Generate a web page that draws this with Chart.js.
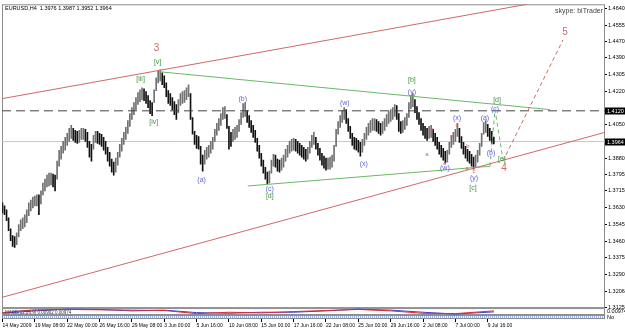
<!DOCTYPE html>
<html>
<head>
<meta charset="utf-8">
<script src="https://cdn.jsdelivr.net/npm/chart.js@4.4.1/dist/chart.umd.min.js"></script>
<style>
	html, body { margin: 0; padding: 0; background: #ffffff; }
	#wrap { width: 625px; height: 330px; }
</style>
</head>
<body>
<div id="wrap"><canvas id="chart" width="625" height="330"></canvas></div>
<script>
// EURUSD H4, 14 May 2009 - 10 Jul 2009 (one entry per bar)
const barHigh = [
	1.3653, 1.3638, 1.3618, 1.3578, 1.3522, 1.3487, 1.3482, 1.3502, 1.3543, 1.3568,
	1.3578, 1.3593, 1.3618, 1.3653, 1.3668, 1.3683, 1.3688, 1.3694, 1.3694, 1.3714,
	1.3754, 1.3774, 1.3794, 1.3804, 1.3804, 1.3799, 1.3794, 1.3865, 1.3920, 1.3940,
	1.3965, 1.3985, 1.4006, 1.4031, 1.4046, 1.4031, 1.4021, 1.4016, 1.4021, 1.4031,
	1.4031, 1.4026, 1.4011, 1.3965, 1.3950, 1.3996, 1.4016, 1.4016, 1.4006, 1.4001,
	1.3985, 1.3965, 1.3935, 1.3910, 1.3875, 1.3860, 1.3880, 1.3910, 1.3950, 1.3980,
	1.4011, 1.4036, 1.4071, 1.4106, 1.4136, 1.4162, 1.4187, 1.4212, 1.4227, 1.4237,
	1.4232, 1.4217, 1.4197, 1.4172, 1.4162, 1.4227, 1.4287, 1.4323, 1.4328, 1.4313,
	1.4298, 1.4262, 1.4222, 1.4207, 1.4187, 1.4167, 1.4152, 1.4177, 1.4207, 1.4217,
	1.4222, 1.4237, 1.4252, 1.4207, 1.4086, 1.4016, 1.3996, 1.3990, 1.3940, 1.3895,
	1.3920, 1.3935, 1.3945, 1.3965, 1.3985, 1.4026, 1.4056, 1.4081, 1.4106, 1.4136,
	1.4141, 1.4101, 1.4041, 1.4011, 1.4026, 1.4036, 1.4046, 1.4076, 1.4111, 1.4157,
	1.4162, 1.4121, 1.4096, 1.4071, 1.4046, 1.4021, 1.3980, 1.3945, 1.3905, 1.3870,
	1.3834, 1.3809, 1.3814, 1.3870, 1.3900, 1.3895, 1.3875, 1.3870, 1.3880, 1.3895,
	1.3925, 1.3945, 1.3965, 1.3975, 1.3980, 1.3975, 1.3965, 1.3955, 1.3945, 1.3935,
	1.3925, 1.3935, 1.3965, 1.3996, 1.4011, 1.3985, 1.3955, 1.3930, 1.3905, 1.3890,
	1.3880, 1.3880, 1.3885, 1.3895, 1.3945, 1.4026, 1.4066, 1.4096, 1.4121, 1.4136,
	1.4126, 1.4081, 1.4041, 1.4006, 1.3985, 1.3980, 1.3970, 1.3960, 1.3975, 1.4006,
	1.4036, 1.4056, 1.4071, 1.4081, 1.4081, 1.4076, 1.4066, 1.4056, 1.4066, 1.4081,
	1.4101, 1.4116, 1.4126, 1.4136, 1.4152, 1.4147, 1.4106, 1.4066, 1.4071, 1.4086,
	1.4106, 1.4162, 1.4197, 1.4207, 1.4177, 1.4141, 1.4111, 1.4081, 1.4056, 1.4041,
	1.4031, 1.4041, 1.4046, 1.4026, 1.4006, 1.3985, 1.3960, 1.3945, 1.3930, 1.3915,
	1.3920, 1.3960, 1.3996, 1.4011, 1.4026, 1.4056, 1.4031, 1.3990, 1.3960, 1.3940,
	1.3925, 1.3915, 1.3900, 1.3885, 1.3895, 1.3920, 1.3955, 1.4006, 1.4061, 1.4071,
	1.4051, 1.4031, 1.4016, 1.3987,
];
const barLow = [
	1.3603, 1.3593, 1.3563, 1.3512, 1.3462, 1.3432, 1.3427, 1.3442, 1.3482, 1.3512,
	1.3522, 1.3532, 1.3553, 1.3588, 1.3613, 1.3628, 1.3638, 1.3638, 1.3593, 1.3648,
	1.3694, 1.3714, 1.3734, 1.3739, 1.3744, 1.3734, 1.3714, 1.3774, 1.3839, 1.3875,
	1.3905, 1.3920, 1.3945, 1.3965, 1.3980, 1.3970, 1.3960, 1.3955, 1.3960, 1.3975,
	1.3975, 1.3965, 1.3935, 1.3885, 1.3865, 1.3925, 1.3960, 1.3955, 1.3950, 1.3940,
	1.3920, 1.3900, 1.3865, 1.3839, 1.3809, 1.3794, 1.3809, 1.3845, 1.3885, 1.3915,
	1.3950, 1.3975, 1.4006, 1.4041, 1.4076, 1.4101, 1.4126, 1.4152, 1.4167, 1.4177,
	1.4172, 1.4157, 1.4136, 1.4106, 1.4096, 1.4162, 1.4222, 1.4262, 1.4272, 1.4252,
	1.4237, 1.4192, 1.4157, 1.4147, 1.4126, 1.4101, 1.4076, 1.4111, 1.4147, 1.4157,
	1.4162, 1.4177, 1.4192, 1.4076, 1.4001, 1.3950, 1.3930, 1.3925, 1.3850, 1.3814,
	1.3850, 1.3875, 1.3885, 1.3905, 1.3925, 1.3965, 1.3996, 1.4021, 1.4046, 1.4076,
	1.4081, 1.4031, 1.3925, 1.3940, 1.3965, 1.3975, 1.3985, 1.4016, 1.4051, 1.4086,
	1.4091, 1.4061, 1.4036, 1.4011, 1.3985, 1.3960, 1.3915, 1.3880, 1.3839, 1.3804,
	1.3774, 1.3749, 1.3754, 1.3804, 1.3839, 1.3834, 1.3814, 1.3809, 1.3819, 1.3834,
	1.3865, 1.3885, 1.3905, 1.3915, 1.3920, 1.3915, 1.3905, 1.3895, 1.3885, 1.3875,
	1.3865, 1.3875, 1.3905, 1.3935, 1.3950, 1.3925, 1.3895, 1.3870, 1.3845, 1.3829,
	1.3819, 1.3824, 1.3824, 1.3834, 1.3865, 1.3940, 1.4001, 1.4036, 1.4061, 1.4076,
	1.4056, 1.4016, 1.3980, 1.3945, 1.3925, 1.3920, 1.3910, 1.3890, 1.3910, 1.3945,
	1.3975, 1.3996, 1.4011, 1.4021, 1.4021, 1.4016, 1.4006, 1.3996, 1.4006, 1.4021,
	1.4041, 1.4056, 1.4066, 1.4076, 1.4091, 1.4076, 1.4016, 1.4006, 1.4011, 1.4026,
	1.4046, 1.4086, 1.4131, 1.4141, 1.4111, 1.4076, 1.4051, 1.4021, 1.3996, 1.3980,
	1.3970, 1.3980, 1.3985, 1.3965, 1.3945, 1.3925, 1.3900, 1.3885, 1.3870, 1.3855,
	1.3860, 1.3900, 1.3935, 1.3950, 1.3965, 1.3990, 1.3960, 1.3930, 1.3900, 1.3880,
	1.3865, 1.3855, 1.3839, 1.3824, 1.3834, 1.3860, 1.3895, 1.3940, 1.4001, 1.4011,
	1.3990, 1.3970, 1.3955, 1.3952,
];
const lastBar = { open: 1.3976, high: 1.3987, low: 1.3952, close: 1.3964 };

// time axis: a label every 16 bars
const xTickBars = [0, 16, 32, 48, 64, 80, 96, 112, 128, 144, 160, 176, 192, 208, 224, 240];
const xTickLabels = [
	"14 May 2009", "19 May 08:00", "22 May 00:00", "26 May 16:00", "29 May 08:00",
	"3 Jun 00:00", "5 Jun 16:00", "10 Jun 08:00", "15 Jun 00:00", "17 Jun 16:00",
	"22 Jun 08:00", "25 Jun 00:00", "29 Jun 16:00", "2 Jul 08:00", "7 Jul 00:00", "9 Jul 16:00",
];

// price axis
const yTickValues = [
	1.4640, 1.4555, 1.4470, 1.4390, 1.4305, 1.4220, 1.4050, 1.3880, 1.3795,
	1.3715, 1.3630, 1.3545, 1.3460, 1.3375, 1.3290, 1.3206, 1.3125,
];
const yTickLabels = [
	"1.4640", "1.4555", "1.4470", "1.4390", "1.4305", "1.4220", "1.4050", "1.3880", "1.3795",
	"1.3715", "1.3630", "1.3545", "1.3460", "1.3375", "1.3290", "1.3206", "1.3125",
];
const levelLine = 1.4120;
const bidLine = 1.3964;

// trend lines: [barIndex, price] pairs
const upperChannel = [[0, 1.4182], [259.4, 1.4660]];
const lowerChannel = [[0, 1.3175], [298, 1.4011]];
const projection = [[247.5, 1.3865], [277.2, 1.4479]];
const triangleTop = [[77.7, 1.4318], [270.8, 1.4126]];
const triangleBottom = [[121.3, 1.3739], [241.1, 1.3839]];
const lastLegs = [[241.1, 1.3839], [243.6, 1.4126], [247.5, 1.3875]];

// wave marks: [barIndex, price, text]
const redMarks = [[76.2, 1.4438, "3"], [248, 1.3829, "4"], [278.2, 1.4519, "5"]];
const smallRedMarks = [
	[212.4, 1.4026, "b"], [209.9, 1.3900, "a"], [218.8, 1.3855, "c"], [222.3, 1.3990, "a"],
	[224.8, 1.4046, "c"], [230.2, 1.3940, "b"], [229.7, 1.3829, "a"], [233.2, 1.3814, "c"],
];
const greenMarks = [
	[76.7, 1.4368, "[v]"], [68.3, 1.4282, "[iii]"], [74.8, 1.4061, "[iv]"], [132.2, 1.3688, "[d]"],
	[202.5, 1.4277, "[b]"], [244.6, 1.4177, "[d]"], [232.7, 1.3729, "[c]"], [247, 1.3875, "[e]"],
];
const blueMarks = [
	[98.5, 1.3769, "(a)"], [118.8, 1.4182, "(b)"], [132.2, 1.3724, "(c)"], [169.3, 1.4157, "(w)"],
	[178.7, 1.3850, "(x)"], [202.5, 1.4217, "(y)"], [243.6, 1.4131, "(c)"], [224.8, 1.4081, "(x)"],
	[238.6, 1.4081, "(a)"], [241.6, 1.3905, "(b)"], [218.8, 1.3829, "(w)"], [233.2, 1.3779, "(y)"],
];

// MACD sub-window
const macdBars = [0, 16, 32, 48, 64, 80, 96, 112, 128, 144, 160, 176, 192, 208, 224, 243];
const macdMain = [-0.3, 0.5, 0.6, 0.5, 0.4, 0.3, -0.6, -0.2, -0.4, 0.0, 0.3, 0.6, 0.2, -0.5, -0.6, 0.2];
const macdSignal = [-0.5, 0.2, 0.7, 0.6, 0.2, 0.4, -0.3, -0.5, -0.2, -0.2, 0.2, 0.7, 0.4, -0.2, -0.7, -0.1];

const FONT = "Liberation Sans";
const RED = "rgb(208, 104, 104)";
const GREEN = "rgb(104, 184, 104)";
const GREEN_TEXT = "rgb(60, 150, 60)";
const BLUE_TEXT = "rgb(96, 96, 220)";

function pts(pairs) {
	return pairs.map(([x, y]) => ({ x, y }));
}

function lineSet(pairs, color, dash = [], axis = "y") {
	return {
		type: "line",
		data: pts(pairs),
		yAxisID: axis,
		borderColor: color,
		borderWidth: 1,
		borderDash: dash,
		pointRadius: 0,
		tension: 0,
		fill: false,
	};
}

// falling bars black, rising bars grey (white-bodied candles look grey at this size)
function barColor(i) {
	if (i === 0) return "#222";
	const mid = barHigh[i] + barLow[i];
	const prev = barHigh[i - 1] + barLow[i - 1];
	return mid < prev ? "#111" : "#707070";
}

const decor = {
	id: "decor",
	beforeDatasetsDraw(chart) {
		const ctx = chart.ctx;
		const { left, right } = chart.chartArea;
		ctx.save();
		ctx.strokeStyle = "#8c8c8c";
		ctx.lineWidth = 1;
		["y", "yInd", "yVol"].forEach((id) => {
			const s = chart.scales[id];
			ctx.strokeRect(left + 0.5, s.top + 0.5, right - left - 1, s.bottom - s.top - 1);
		});
		ctx.restore();
	},
	afterDatasetsDraw(chart) {
		const ctx = chart.ctx;
		const sx = chart.scales.x;
		const sy = chart.scales.y;
		const { left, right, top } = chart.chartArea;

		ctx.save();
		ctx.textAlign = "center";
		ctx.textBaseline = "middle";

		function marks(list, color, size) {
			ctx.fillStyle = color;
			ctx.font = `${size}px "${FONT}"`;
			list.forEach(([x, y, t]) => {
				ctx.fillText(t, sx.getPixelForValue(x), sy.getPixelForValue(y));
			});
		}
		marks(redMarks, RED, 10);
		marks(smallRedMarks, RED, 6);
		marks(greenMarks, GREEN_TEXT, 7);
		marks(blueMarks, BLUE_TEXT, 7);

		// header and caption
		ctx.textAlign = "left";
		ctx.fillStyle = "#000";
		ctx.font = `5.5px "${FONT}"`;
		ctx.fillText(
			`EURUSD,H4  ${lastBar.open.toFixed(4)} ${lastBar.high.toFixed(4)} ${lastBar.low.toFixed(4)} ${lastBar.close.toFixed(4)}`,
			left + 3, top + 4
		);
		ctx.textAlign = "right";
		ctx.fillStyle = "#444";
		ctx.font = `7px "${FONT}"`;
		ctx.fillText("skype: biTrader", right - 2, top + 7);

		// MACD caption
		const si = chart.scales.yInd;
		ctx.textAlign = "left";
		ctx.fillStyle = "#333";
		ctx.font = `4.5px "${FONT}"`;
		ctx.fillText("MACD(12,26,9) 0.00902 0.00974", left + 3, si.top + 4.5);

		// highlighted price labels
		ctx.font = `5.5px "${FONT}"`;
		[levelLine, bidLine].forEach((p) => {
			const yy = Math.round(sy.getPixelForValue(p));
			ctx.fillStyle = "#000";
			ctx.fillRect(right, yy - 3.5, 20, 7);
			ctx.fillStyle = "#fff";
			ctx.fillText(p.toFixed(4), right + 2, yy);
		});
		ctx.fillStyle = "#000";
		ctx.fillText("0.00974", right + 2, (si.top + si.bottom) / 2);
		ctx.fillText("No", right + 2, chart.scales.yVol.top + 2);
		ctx.restore();
	},
};

const fullSpan = (p) => [[-0.25, p], [298, p]];

const datasets = [
	lineSet(upperChannel, RED),
	lineSet(lowerChannel, RED),
	lineSet(projection, RED, [4, 3]),
	lineSet(triangleTop, GREEN),
	lineSet(triangleBottom, GREEN),
	lineSet(lastLegs, GREEN, [4, 3]),
	lineSet(fullSpan(levelLine), "#444", [9, 5]),
	{
		type: "bar",
		data: barHigh.map((h, i) => ({ x: i, y: [barLow[i], h] })),
		yAxisID: "y",
		backgroundColor: barHigh.map((h, i) => barColor(i)),
		borderWidth: 0,
		barThickness: 1,
		grouped: false,
	},
	lineSet(fullSpan(bidLine), "#c8c8c8"),
	lineSet(macdBars.map((b, i) => [b, macdMain[i]]), "rgb(220, 40, 60)", [], "yInd"),
	lineSet(macdBars.map((b, i) => [b, macdSignal[i]]), "rgb(60, 60, 220)", [], "yInd"),
	lineSet([[-0.25, 0], [298, 0]], "rgb(50, 110, 220)", [1, 1], "yVol"),
];

new Chart(document.getElementById("chart"), {
	type: "bar",
	data: { datasets },
	plugins: [decor],
	options: {
		responsive: false,
		animation: false,
		layout: { padding: { left: 2, top: 2, right: 0, bottom: 0 } },
		plugins: { legend: { display: false }, tooltip: { enabled: false } },
		scales: {
			x: {
				type: "linear",
				offset: false,
				min: -0.25,
				max: 298,
				afterBuildTicks: (s) => {
					s.ticks = xTickBars.map((v) => ({ value: v }));
				},
				afterFit: (s) => {
					s.height = 11;
				},
				ticks: {
					autoSkip: false,
					maxRotation: 0,
					align: "start",
					padding: 1,
					color: "#000",
					font: { family: FONT, size: 5 },
					callback: (v, i) => xTickLabels[i],
				},
				grid: { drawOnChartArea: false, offset: false, tickLength: 3, color: "#000" },
				border: { display: false },
			},
			y: {
				position: "right",
				stack: "pane",
				stackWeight: 306,
				min: 1.3120,
				max: 1.4660,
				afterBuildTicks: (s) => {
					s.ticks = yTickValues.map((v) => ({ value: v }));
				},
				afterFit: (s) => {
					s.width = 20;
				},
				ticks: {
					padding: 1,
					color: "#000",
					font: { family: FONT, size: 5.5 },
					callback: (v, i) => yTickLabels[i],
				},
				grid: { drawOnChartArea: false, tickLength: 2, color: "#000" },
				border: { display: false },
			},
			yInd: {
				position: "right",
				stack: "pane",
				stackWeight: 7,
				min: -1,
				max: 1,
				afterFit: (s) => {
					s.width = 20;
				},
				ticks: { display: false },
				grid: { display: false },
				border: { display: false },
			},
			yVol: {
				position: "right",
				stack: "pane",
				stackWeight: 4,
				min: -1,
				max: 1,
				afterFit: (s) => {
					s.width = 20;
				},
				ticks: { display: false },
				grid: { display: false },
				border: { display: false },
			},
		},
	},
});
</script>
</body>
</html>
